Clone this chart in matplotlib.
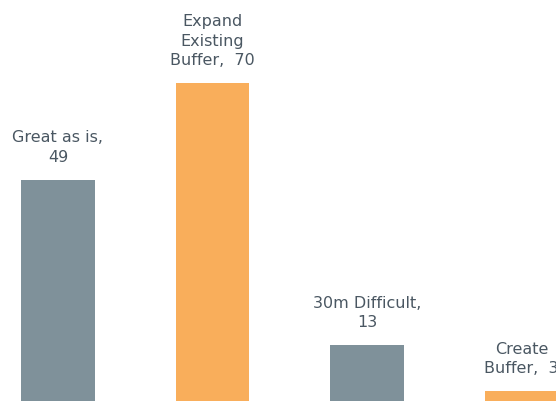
import matplotlib
matplotlib.use("Agg")
import matplotlib.pyplot as plt

# Dados do gráfico
categories = ["Great as is,", "Expand\nExisting\nBuffer, ", "30m Difficult,", "Create\nBuffer, "]
values = [49, 70, 13, 3]
seps = ["\n", " ", "\n", " "]
colors = ["#7F919A", "#F9AE5B", "#7F919A", "#F9AE5B"]

text_color = "#4A5762"

fig = plt.figure(figsize=(5.56, 4.02), dpi=100)
ax = fig.add_axes([0, 0, 1, 1])

x = list(range(len(values)))
ax.bar(x, values, width=0.476, color=colors)

for xi, cat, sep, v in zip(x, categories, seps, values):
    ax.annotate(cat + sep + str(v), xy=(xi, v), xytext=(0, 11.5),
                textcoords="offset points", ha="center", va="bottom",
                fontsize=11.5, color=text_color, linespacing=1.38,
                annotation_clip=False)

# Área visível recortada como na imagem original
ax.set_xlim(-0.375, 3.223)
ax.set_ylim(0.87, 88.3)
ax.axis("off")

fig.savefig("out.png", dpi=100)
